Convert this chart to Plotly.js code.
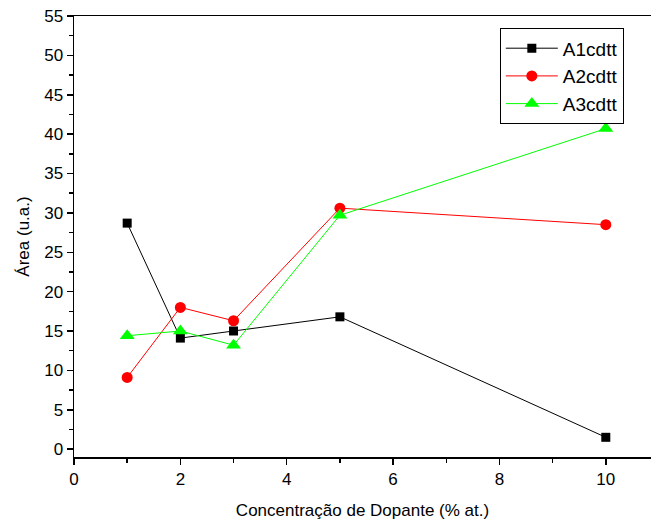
<!DOCTYPE html>
<html>
<head>
<meta charset="utf-8">
<script src="https://cdn.plot.ly/plotly-3.0.1.min.js"></script>
<style>html,body{margin:0;padding:0;background:#fff;}#chart{width:651px;height:527px;}</style>
</head>
<body>
<div id="chart"></div>
<script>
const concentration = [1, 2, 3, 5, 10];
const seriesNames = ["A1cdtt", "A2cdtt", "A3cdtt"];
const a1cdtt = [28.7, 14.1, 15.0, 16.8, 1.5];
const a2cdtt = [9.1, 18.0, 16.3, 30.6, 28.5];
const a3cdtt = [14.4, 15.0, 13.2, 29.7, 40.7];

const fontFam = "Liberation Sans, Arial, sans-serif";
const traces = [
  {x: concentration, y: a1cdtt, name: seriesNames[0], mode: "lines+markers",
   line: {color: "#000000", width: 1}, marker: {symbol: "square", size: 9, color: "#000000"}},
  {x: concentration, y: a2cdtt, name: seriesNames[1], mode: "lines+markers",
   line: {color: "#ff0000", width: 1}, marker: {symbol: "circle", size: 11, color: "#ff0000"}},
  {x: concentration, y: a3cdtt, name: seriesNames[2], mode: "lines+markers",
   line: {color: "#00ff00", width: 1}, marker: {symbol: "triangle-up", size: 13, color: "#00ff00"}}
];

const layout = {
  width: 651, height: 527,
  margin: {l: 74, r: 0, t: 16, b: 70},
  paper_bgcolor: "#ffffff", plot_bgcolor: "#ffffff",
  font: {family: fontFam, size: 17, color: "#000"},
  showlegend: true,
  legend: {x: 0.738, y: 0.972, xanchor: "left", yanchor: "top",
           bordercolor: "#000", borderwidth: 1, bgcolor: "#fff",
           font: {family: fontFam, size: 19, color: "#000"},
           tracegroupgap: 0, itemwidth: 52},
  xaxis: {
    range: [0, 10.85], tickmode: "linear", tick0: 0, dtick: 2,
    showgrid: false, zeroline: false, showline: true, linecolor: "#000", linewidth: 1.5,
    mirror: true, ticks: "outside", ticklen: 6, tickwidth: 1.5, tickcolor: "#000",
    minor: {dtick: 1, tick0: 0, ticks: "outside", ticklen: 4, tickwidth: 1.5, tickcolor: "#000"},
    tickfont: {family: fontFam, size: 17},
    title: {text: "Concentração de Dopante (% at.)", font: {family: fontFam, size: 17}, standoff: 16}
  },
  yaxis: {
    range: [-1, 55], tickmode: "linear", tick0: 0, dtick: 5,
    showgrid: false, zeroline: false, showline: true, linecolor: "#000", linewidth: 1.5,
    ticks: "outside", ticklen: 6, tickwidth: 1.5, tickcolor: "#000",
    minor: {dtick: 2.5, tick0: 0, ticks: "outside", ticklen: 4, tickwidth: 1.5, tickcolor: "#000"},
    tickfont: {family: fontFam, size: 17},
    title: {text: "Área (u.a.)", font: {family: fontFam, size: 17}, standoff: 10}
  }
};

Plotly.newPlot("chart", traces, layout, {displayModeBar: false, staticPlot: true});
</script>
</body>
</html>
